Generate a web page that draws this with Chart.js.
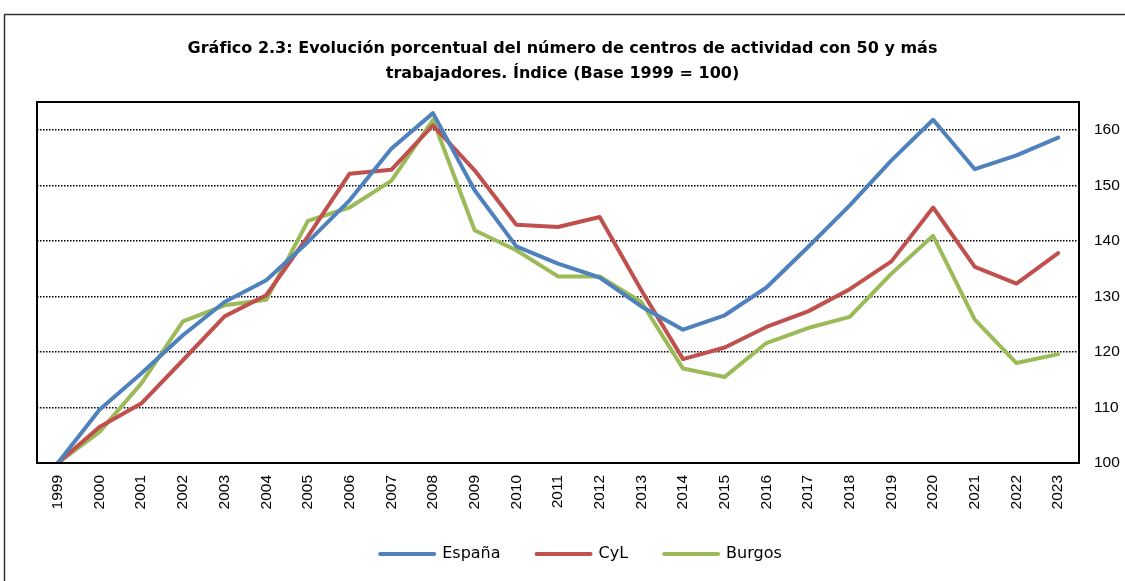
<!DOCTYPE html>
<html lang="es">
<head>
<meta charset="UTF-8">
<title>Gráfico 2.3</title>
<script src="https://cdn.jsdelivr.net/npm/chart.js"></script>
<style>
  html, body { margin: 0; padding: 0; background: #fff; }
</style>
</head>
<body>
<canvas id="grafico" width="1125" height="581"></canvas>
<script>
  // Datos (índice base 1999 = 100)
  const anos = ['1999','2000','2001','2002','2003','2004','2005','2006','2007','2008','2009','2010',
                '2011','2012','2013','2014','2015','2016','2017','2018','2019','2020','2021','2022','2023'];
  const espana = [100, 109.6, 116.1, 123.0, 129.0, 132.9, 139.8, 147.3, 156.6, 163.0, 149.1, 139.0,
                  135.9, 133.4, 128.2, 124.0, 126.6, 131.6, 138.9, 146.4, 154.5, 161.8, 152.9, 155.4, 158.6];
  const cyl = [100, 106.5, 110.7, 118.5, 126.4, 130.2, 140.8, 152.1, 152.8, 160.8, 152.7, 142.9,
               142.5, 144.3, 131.1, 118.7, 120.8, 124.5, 127.3, 131.3, 136.3, 146.0, 135.3, 132.3, 137.8];
  const burgos = [100, 105.6, 114.3, 125.5, 128.4, 129.4, 143.6, 146.0, 150.8, 161.8, 141.9, 138.3,
                  133.6, 133.6, 129.0, 117.0, 115.5, 121.6, 124.3, 126.3, 134.1, 140.9, 125.8, 118.0, 119.6];
  const ticksY = [100, 110, 120, 130, 140, 150, 160];

  const titulo = ['Gráfico 2.3: Evolución porcentual del número de centros de actividad con 50 y más',
                  'trabajadores. Índice (Base 1999 = 100)'];

  const fuenteEjes = "'Liberation Sans', Arial, sans-serif";

  // Marco exterior, título centrado en el lienzo y borde del área de trazado
  const marco = {
    id: 'marco',
    afterLayout(chart) {
      chart.titleBlock.left = 0;
      chart.titleBlock.right = chart.width;
    },
    beforeDraw(chart) {
      const ctx = chart.ctx;
      ctx.save();
      ctx.fillStyle = '#fff';
      ctx.fillRect(0, 0, chart.width, chart.height);
      ctx.strokeStyle = '#333';
      ctx.lineWidth = 1.5;
      ctx.strokeRect(4.5, 14.5, 1300, 800);
      ctx.restore();
    },
    afterDraw(chart) {
      const a = chart.chartArea;
      const ctx = chart.ctx;
      ctx.save();
      ctx.strokeStyle = '#000';
      ctx.lineWidth = 2;
      ctx.strokeRect(a.left, a.top, a.right - a.left, a.bottom - a.top);
      ctx.restore();
    }
  };

  const serie = (label, data, color) => ({
    label: label, data: data,
    borderColor: color, backgroundColor: color,
    borderWidth: 4, pointRadius: 0, pointHoverRadius: 0,
    tension: 0, borderJoinStyle: 'round', borderCapStyle: 'round'
  });

  const ctx = document.getElementById('grafico').getContext('2d');
  const chart = new Chart(ctx, {
    type: 'line',
    data: {
      labels: anos,
      datasets: [
        serie('España', espana, '#4F81BD'),
        serie('CyL', cyl, '#C0504D'),
        serie('Burgos', burgos, '#9BBB59')
      ]
    },
    plugins: [marco],
    options: {
      responsive: false,
      animation: false,
      layout: { padding: { left: 37, right: 0, top: 0, bottom: 9 } },
      scales: {
        x: {
          type: 'category',
          offset: true,
          grid: { display: false, drawTicks: false },
          border: { display: false },
          ticks: {
            minRotation: 90, maxRotation: 90, autoSkip: false, padding: 12,
            color: '#000', font: { family: fuenteEjes, size: 15.5 }
          },
          afterFit(s) { s.height = 47; }
        },
        y: {
          type: 'linear',
          position: 'right',
          min: 100, max: 165,
          afterBuildTicks(s) { s.ticks = ticksY.map(v => ({ value: v })); },
          grid: { color: '#000', lineWidth: 1.5, drawTicks: false },
          border: { display: false, dash: [1.5, 1.5] },
          ticks: {
            padding: 15, color: '#000',
            font: { family: fuenteEjes, size: 15.5 }
          },
          afterFit(s) { s.width = 46; }
        }
      },
      plugins: {
        title: {
          display: true,
          text: titulo,
          color: '#000',
          font: { family: 'DejaVu Sans', size: 16, weight: 'bold', lineHeight: 1.5625 },
          padding: { top: 36, bottom: 16 }
        },
        legend: {
          position: 'bottom',
          labels: {
            usePointStyle: true,
            pointStyleWidth: 54,
            padding: 36,
            color: '#000',
            font: { family: 'DejaVu Sans', size: 16 },
            generateLabels(c) {
              return c.data.datasets.map((d, i) => ({
                text: d.label, datasetIndex: i, hidden: false,
                strokeStyle: d.borderColor, fillStyle: d.borderColor, fontColor: '#000',
                lineWidth: 4, lineCap: 'round', pointStyle: 'line'
              }));
            }
          }
        },
        tooltip: { enabled: false }
      }
    }
  });
</script>
</body>
</html>
